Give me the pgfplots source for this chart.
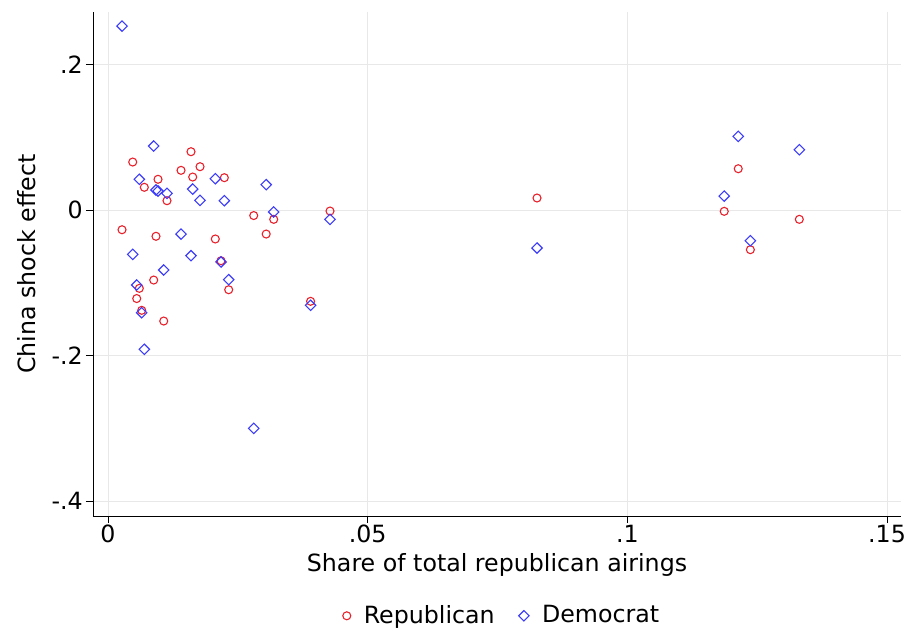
\documentclass[border=0pt]{standalone}
\usepackage{fontspec}
\setmainfont{DejaVu Sans}
\usepackage{pgfplots}
\pgfplotsset{compat=1.18}
\definecolor{rRed}{RGB}{232,32,42}
\definecolor{dBlue}{RGB}{60,60,250}
\begin{document}
\fontsize{23.8}{28}\selectfont
\begin{tikzpicture}
\begin{axis}[
  scale only axis,
  width=808bp, height=504bp,
  xmin=-0.00289, xmax=0.1527,
  ymin=-0.4203, ymax=0.272,
  axis lines*=left,
  axis line style={black, line width=0.9pt},
  xtick={0,0.05,0.1,0.15},
  xticklabels={0,.05,.1,.15},
  ytick={-0.4,-0.2,0,0.2},
  yticklabels={-.4,-.2,0,.2},
  tick align=outside,
  major tick length=7bp,
  tick style={black, line width=0.9pt},
  grid=major,
  grid style={black!9, line width=0.9pt},
  xlabel={Share of total republican airings},
  ylabel={China shock effect},
  xlabel style={at={(axis description cs:0.5,-0.097)}, anchor=center},
  ylabel style={at={(axis description cs:-0.082,0.5)}, anchor=center},
  xticklabel style={inner sep=2bp},
  yticklabel style={inner sep=3bp},
  legend style={at={(axis description cs:0.513,-0.198)}, anchor=center, draw=none, fill=none,
     legend columns=2, /tikz/every even column/.append style={column sep=11bp},
     nodes={inner xsep=13bp}},
  legend cell align=left,
]
\addplot[only marks, mark=o, mark size=4bp, rRed, mark options={line width=1.1pt}]
 table[x=x, y=r] {
x r
0.00270 -0.0271
0.00476 0.0659
0.00553 -0.1216
0.00603 -0.1076
0.00649 -0.1378
0.00699 0.0312
0.00880 -0.0962
0.00924 -0.0361
0.00963 0.0422
0.01073 -0.1525
0.01136 0.0128
0.01406 0.0545
0.01598 0.0801
0.01631 0.0453
0.01772 0.0595
0.02066 -0.0398
0.02176 -0.0697
0.02240 0.0444
0.02324 -0.1095
0.02806 -0.0076
0.03046 -0.0330
0.03191 -0.0128
0.03901 -0.1254
0.04275 -0.0014
0.08261 0.0165
0.11866 -0.0018
0.12136 0.0567
0.12369 -0.0545
0.13312 -0.0128
};
\addlegendentry{Republican}
\addplot[only marks, mark=square, mark size=3.7bp, dBlue, mark options={line width=1.1pt, rotate=45}]
 table[x=x, y=d] {
x d
0.00270 0.2527
0.00476 -0.0609
0.00553 -0.1030
0.00603 0.0422
0.00649 -0.1411
0.00699 -0.1913
0.00880 0.0879
0.00924 0.0275
0.00963 0.0261
0.01073 -0.0824
0.01136 0.0229
0.01406 -0.0330
0.01598 -0.0628
0.01631 0.0288
0.01772 0.0133
0.02066 0.0430
0.02176 -0.0714
0.02240 0.0128
0.02324 -0.0957
0.02806 -0.2999
0.03046 0.0348
0.03191 -0.0027
0.03901 -0.1309
0.04275 -0.0128
0.08261 -0.0522
0.11866 0.0192
0.12136 0.1012
0.12369 -0.0422
0.13312 0.0828
};
\addlegendentry{Democrat}
\end{axis}
\pgfresetboundingbox
\path (-93bp,-116bp) rectangle (816bp,516bp);
\end{tikzpicture}
\end{document}
